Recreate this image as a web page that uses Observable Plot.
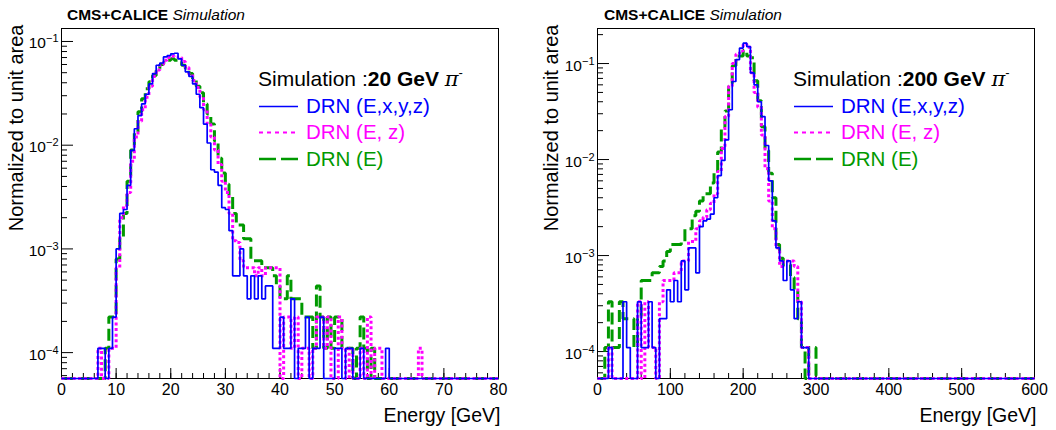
<!DOCTYPE html>
<html>
<head>
<meta charset="utf-8">
<script src="https://cdn.jsdelivr.net/npm/d3@7"></script>
<script src="https://cdn.jsdelivr.net/npm/@observablehq/plot@0.6"></script>
<style>
  html, body { margin: 0; padding: 0; background: #fff; }
  #wrap { position: relative; width: 1056px; height: 430px; overflow: hidden; font-family: "Liberation Sans", Arial, sans-serif; }
  .panel { position: absolute; top: 0; width: 528px; height: 430px; }
  .panel > svg { position: absolute; left: 0; top: 0; }
  .overlay { position: absolute; left: 0; top: 0; pointer-events: none; }
</style>
</head>
<body>
<div id="wrap"></div>
<script>
// ---------------- data ----------------
const seriesNames = ["DRN (E,x,y,z)", "DRN (E, z)", "DRN (E)"];
const seriesColors = ["#0000ff", "#ff00ff", "#009900"];

// 20 GeV pi-  : 120 bins over 0-80 GeV
const leftBins = 120, leftXMax = 80;
const leftBlue = [
  0,0,0,0,0,0,0,0,0,0,
  1.1e-4,1.1e-4,0,1.1e-4,2.2e-4,1.0e-3,2.2e-3,2.4e-3,4.1e-3,8.9e-3,
  0.0144,0.0193,0.025,0.031,0.039,0.049,0.059,0.062,0.071,0.073,
  0.076,0.077,0.068,0.059,0.051,0.046,0.039,0.031,0.023,0.016,
  0.0105,5.8e-3,5.5e-3,4.1e-3,2.5e-3,2.4e-3,1.5e-3,5.5e-4,5.5e-4,1.0e-3,
  5.5e-4,3.3e-4,5.5e-4,3.3e-4,5.5e-4,3.3e-4,4.4e-4,4.4e-4,1.1e-4,1.1e-4,
  2.2e-4,1.1e-4,1.1e-4,3.3e-4,0,1.1e-4,1.1e-4,2.2e-4,0,1.1e-4,
  1.1e-4,2.2e-4,0,0,0,1.1e-4,1.1e-4,0,1.1e-4,1.1e-4,
  0,0,1.1e-4,0,0,0,0,0,0,1.1e-4,
  0,0,0,0,0,0,0,0,0,0,
  0,0,0,0,0,0,0,0,0,0,
  0,0,0,0,0,0,0,0,0,0
];
const leftMagenta = [
  0,0,0,0,0,0,0,0,0,0,
  1.1e-4,0,0,1.1e-4,1.1e-4,6.6e-4,2.0e-3,2.6e-3,3.5e-3,7.0e-3,
  0.012,0.017,0.022,0.029,0.037,0.046,0.053,0.060,0.066,0.070,
  0.072,0.071,0.070,0.064,0.056,0.048,0.042,0.036,0.029,0.022,
  0.016,0.012,9.0e-3,6.5e-3,4.5e-3,3.5e-3,2.2e-3,1.2e-3,1.15e-3,7.7e-4,
  6.6e-4,6.6e-4,6.6e-4,5.5e-4,6.6e-4,5.5e-4,6.6e-4,6.6e-4,6.6e-4,6.6e-4,
  0,2.2e-4,2.2e-4,1.1e-4,2.2e-4,0,1.1e-4,1.1e-4,0,1.1e-4,
  2.2e-4,2.2e-4,1.1e-4,2.2e-4,0,0,2.2e-4,1.1e-4,0,1.1e-4,
  0,0,1.1e-4,0,2.2e-4,0,1.1e-4,1.1e-4,0,0,
  0,0,0,0,0,0,0,0,1.1e-4,0,
  0,0,0,0,0,0,0,0,0,0,
  0,0,0,0,0,0,0,0,0,0
];
const leftGreen = [
  0,0,0,0,0,0,0,0,0,0,
  0,0,1.1e-4,2.2e-4,2.2e-4,8.0e-4,1.3e-3,2.2e-3,4.5e-3,9.0e-3,
  0.0135,0.021,0.028,0.035,0.041,0.047,0.054,0.060,0.063,0.066,
  0.068,0.066,0.063,0.059,0.055,0.049,0.043,0.037,0.032,0.025,
  0.020,0.016,0.011,7.5e-3,5.4e-3,4.2e-3,3.3e-3,2.2e-3,1.7e-3,1.7e-3,
  1.25e-3,1.25e-3,7.7e-4,7.7e-4,7.7e-4,6.6e-4,6.6e-4,6.6e-4,5.5e-4,4.4e-4,
  3.3e-4,3.3e-4,5.5e-4,3.3e-4,3.3e-4,3.3e-4,2.2e-4,2.2e-4,2.2e-4,1.1e-4,
  4.4e-4,2.2e-4,1.1e-4,2.2e-4,1.1e-4,2.2e-4,2.2e-4,1.1e-4,1.1e-4,1.1e-4,
  0,1.1e-4,2.2e-4,1.1e-4,0,1.1e-4,0,0,0,0,
  0,0,0,0,0,0,0,0,0,0,
  0,0,0,0,0,0,0,0,0,0,
  0,0,0,0,0,0,0,0,0,0
];

// 200 GeV pi- : 120 bins over 0-600 GeV
const rightBins = 120, rightXMax = 600;
const rightBlue = [
  0,0,0,1.1e-4,0,0,0,3.3e-4,1.1e-4,0,
  0,3.3e-4,1.1e-4,1.1e-4,3.3e-4,1.1e-4,0,2.2e-4,2.2e-4,4.4e-4,
  3.3e-4,5.5e-4,3.3e-4,8.8e-4,4.4e-4,1.2e-3,1.2e-3,6.6e-4,2.0e-3,2.3e-3,
  2.4e-3,2.7e-3,4.0e-3,6.8e-3,9.8e-3,0.016,0.033,0.065,0.11,0.145,
  0.163,0.15,0.08,0.06,0.04,0.028,0.014,6.0e-3,2.3e-3,1.2e-3,
  8.8e-4,5.5e-4,8.8e-4,4.4e-4,2.2e-4,3.3e-4,1.1e-4,1.1e-4,0,0,
  0,0,0,0,0,0,0,0,0,0,
  0,0,0,0,0,0,0,0,0,0,
  0,0,0,0,0,0,0,0,0,0,
  0,0,0,0,0,0,0,0,0,0,
  0,0,0,0,0,0,0,0,0,0,
  0,0,0,0,0,0,0,0,0,0
];
const rightMagenta = [
  0,0,0,1.1e-4,0,0,0,0,0,0,
  0,3.3e-4,0,3.3e-4,1.1e-4,1.1e-4,0,3.3e-4,5.5e-4,5.5e-4,
  5.5e-4,6.6e-4,6.6e-4,8.8e-4,8.8e-4,1.4e-3,1.4e-3,1.9e-3,2.3e-3,2.5e-3,
  3.0e-3,3.5e-3,4.4e-3,7.5e-3,0.013,0.028,0.058,0.10,0.125,0.135,
  0.16,0.148,0.08,0.05,0.035,0.018,8.0e-3,3.7e-3,1.9e-3,1.2e-3,
  7.7e-4,8.8e-4,8.8e-4,8.8e-4,7.7e-4,3.3e-4,1.1e-4,1.1e-4,0,0,
  0,0,0,0,0,0,0,0,0,0,
  0,0,0,0,0,0,0,0,0,0,
  0,0,0,0,0,0,0,0,0,0,
  0,0,0,0,0,0,0,0,0,0,
  0,0,0,0,0,0,0,0,0,0,
  0,0,0,0,0,0,0,0,0,0
];
const rightGreen = [
  0,0,1.1e-4,3.3e-4,1.1e-4,1.1e-4,3.3e-4,2.2e-4,2.2e-4,2.2e-4,
  1.1e-4,2.2e-4,5.5e-4,5.5e-4,5.5e-4,6.6e-4,6.6e-4,7.7e-4,8.8e-4,1.1e-3,
  1.3e-3,1.3e-3,1.3e-3,1.4e-3,1.9e-3,1.9e-3,2.6e-3,2.9e-3,3.7e-3,4.4e-3,
  4.4e-3,5.7e-3,7.2e-3,0.012,0.022,0.032,0.062,0.095,0.12,0.12,
  0.137,0.12,0.115,0.066,0.041,0.022,0.0124,7.2e-3,4.0e-3,1.3e-3,
  9.4e-4,8.0e-4,8.0e-4,5.9e-4,4.4e-4,2.2e-4,1.1e-4,0,1.1e-4,1.1e-4,
  0,0,0,0,0,0,0,0,0,0,
  0,0,0,0,0,0,0,0,0,0,
  0,0,0,0,0,0,0,0,0,0,
  0,0,0,0,0,0,0,0,0,0,
  0,0,0,0,0,0,0,0,0,0,
  0,0,0,0,0,0,0,0,0,0
];

// tick labels
const leftXTicks = [0, 10, 20, 30, 40, 50, 60, 70, 80];
const rightXTicks = [0, 100, 200, 300, 400, 500, 600];
const yTicks = [1e-4, 1e-3, 1e-2, 1e-1];
const leftYDomain = [5.63e-5, 0.1334];
const rightYDomain = [5.24e-5, 0.2317];

// ---------------- drawing ----------------
const W = 528, H = 430, MT = 28, MB = 52;
const FONT = '"Liberation Sans", Arial, Helvetica, sans-serif';
const lineStyles = [
  {stroke: seriesColors[0], strokeWidth: 1.7},
  {stroke: seriesColors[1], strokeWidth: 3, strokeDasharray: "3,2.6"},
  {stroke: seriesColors[2], strokeWidth: 3, strokeDasharray: "12,5"}
];
const legendStyles = [
  {stroke: seriesColors[0], strokeWidth: 1.3},
  {stroke: seriesColors[1], strokeWidth: 2.2, strokeDasharray: "4,4"},
  {stroke: seriesColors[2], strokeWidth: 2.4, strokeDasharray: "17,5"}
];

function stepPoints(vals, bw, floor) {
  const pts = vals.map((v, i) => ({x: i * bw, y: v > 0 ? v : floor}));
  pts.push({x: vals.length * bw, y: pts[pts.length - 1].y});
  return pts;
}

function drawPanel(cfg) {
  const host = document.createElement("div");
  host.className = "panel";
  host.style.left = cfg.left + "px";
  document.getElementById("wrap").appendChild(host);

  const fw = W - cfg.marginLeft - cfg.marginRight;
  const fh = H - MT - MB;
  const floor = cfg.yDomain[0];
  const bw = cfg.xMax / cfg.nBins;
  const yMinor = d3.range(-5, 0)
    .flatMap(k => d3.range(2, 10).map(m => m * Math.pow(10, k)))
    .filter(v => v >= cfg.yDomain[0] && v <= cfg.yDomain[1]);
  const xMinor = d3.range(0, cfg.xMax + 1e-9, cfg.xMinorStep);
  const base = {x: "x", y: "y", curve: "step-after", strokeLinecap: "butt", strokeLinejoin: "miter"};

  const lineMarks = [2, 1, 0].map(s =>
    Plot.line(stepPoints(cfg.series[s], bw, floor), {...base, ...lineStyles[s]})
  );

  const svg = Plot.plot({
    width: W, height: H,
    marginLeft: cfg.marginLeft, marginRight: cfg.marginRight, marginTop: MT, marginBottom: MB,
    style: {fontFamily: FONT, fontSize: "16px", color: "black", background: "white", overflow: "visible"},
    x: {domain: [0, cfg.xMax]},
    y: {type: "log", domain: cfg.yDomain},
    marks: [
      Plot.frame({stroke: "black", strokeWidth: 1}),
      Plot.tickX(xMinor, {x: d => d, insetTop: fh - 5, strokeWidth: 1}),
      Plot.tickX(cfg.xTicks, {x: d => d, insetTop: fh - 10, strokeWidth: 1}),
      Plot.tickY(yMinor, {y: d => d, insetRight: fw - 6, strokeWidth: 1}),
      Plot.tickY(yTicks, {y: d => d, insetRight: fw - 12, strokeWidth: 1}),
      ...lineMarks,
      Plot.axisX({ticks: cfg.xTicks, tickSize: 0, tickPadding: 5, tickFormat: d => String(d), fontSize: 16, label: null}),
      Plot.axisY({ticks: yTicks, tickSize: 0, tickPadding: 3, dy: 2,
        tickFormat: d => "10^" + Math.round(Math.log10(d)), fontSize: 15.5, label: null}),
      Plot.text(["Energy [GeV]"], {frameAnchor: "bottom-right", textAnchor: "end", lineAnchor: "middle",
        dx: 2, dy: 37, fontSize: 19.5}),
      Plot.text(["Normalized to unit area"], {frameAnchor: "top-left", rotate: -90, textAnchor: "end",
        lineAnchor: "middle", dx: cfg.yTitleDx, dy: -4, fontSize: 20})
    ]
  });
  host.appendChild(svg);

  // superscript exponents on the log-axis labels
  svg.querySelectorAll('g[aria-label="y-axis tick label"] text').forEach(t => {
    const m = t.textContent.match(/^10\^(-?\d+)$/);
    if (!m) return;
    t.textContent = "10";
    const ts = document.createElementNS("http://www.w3.org/2000/svg", "tspan");
    ts.setAttribute("dy", "-6");
    ts.setAttribute("font-size", "11");
    ts.textContent = m[1].replace("-", "\u2212");
    t.appendChild(ts);
  });

  // header + legend overlay
  const ns = "http://www.w3.org/2000/svg";
  const ov = document.createElementNS(ns, "svg");
  ov.setAttribute("class", "overlay");
  ov.setAttribute("width", W);
  ov.setAttribute("height", H);
  ov.style.fontFamily = FONT;
  let html = "";
  html += `<text x="${cfg.hdrX}" y="20" font-size="15.5"><tspan font-weight="bold">CMS+CALICE</tspan> <tspan font-style="italic">Simulation</tspan></text>`;
  html += `<text x="${cfg.legX + 2}" y="86" font-size="21">Simulation :<tspan font-weight="bold">${cfg.energy} GeV</tspan> <tspan font-family="'DejaVu Serif', serif" font-style="italic">π</tspan><tspan dy="-9" font-size="13">-</tspan></text>`;
  const baselines = [113, 139, 165.5];
  seriesNames.forEach((name, i) => {
    const st = legendStyles[i];
    const yl = baselines[i] - 6.5;
    html += `<line x1="${cfg.legX + 3}" x2="${cfg.legX + 42}" y1="${yl}" y2="${yl}" stroke="${st.stroke}" stroke-width="${st.strokeWidth}" ${st.strokeDasharray ? `stroke-dasharray="${st.strokeDasharray}"` : ""}/>`;
    html += `<text x="${cfg.legX + 50}" y="${baselines[i]}" font-size="20.5" fill="${st.stroke}">${name}</text>`;
  });
  ov.innerHTML = html;
  host.appendChild(ov);
}

drawPanel({
  left: 0, marginLeft: 61, marginRight: 30, xMax: leftXMax, nBins: leftBins,
  xTicks: leftXTicks, xMinorStep: 2, yDomain: leftYDomain, yTitleDx: -45,
  series: [leftBlue, leftMagenta, leftGreen], hdrX: 67, legX: 256, energy: "20"
});
drawPanel({
  left: 528, marginLeft: 69, marginRight: 22, xMax: rightXMax, nBins: rightBins,
  xTicks: rightXTicks, xMinorStep: 20, yDomain: rightYDomain, yTitleDx: -46,
  series: [rightBlue, rightMagenta, rightGreen], hdrX: 76, legX: 263, energy: "200"
});
</script>
</body>
</html>
